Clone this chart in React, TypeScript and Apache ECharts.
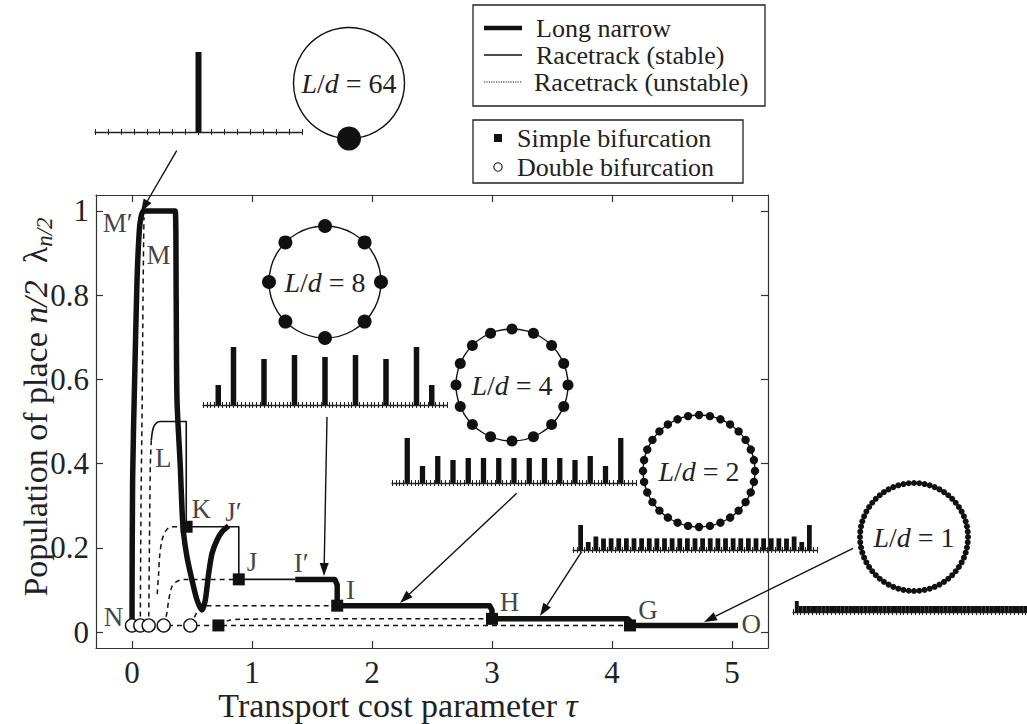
import React, { useEffect, useRef } from 'react';
import * as echarts from 'echarts';

// ---------- main diagram data (tau, lambda_{n/2}) ----------
const xTicks = [0, 1, 2, 3, 4, 5];
const yTicks = [0, 0.2, 0.4, 0.6, 0.8, 1];

const thickBranchM = [[0, 0.0156], [0.005, 0.36], [0.022, 0.6], [0.042, 0.836], [0.06, 0.95], [0.075, 0.985], [0.097, 1], [0.36, 1], [0.368, 0.8], [0.375, 0.551], [0.4025, 0.393], [0.417, 0.29], [0.43, 0.234], [0.458, 0.179], [0.5, 0.1235], [0.542, 0.076], [0.583, 0.052], [0.611, 0.076], [0.639, 0.139], [0.667, 0.187], [0.708, 0.218], [0.75, 0.238], [0.805, 0.252]];
const thickTail = [[1.36, 0.125], [1.69, 0.125], [1.71, 0.112], [1.71, 0.0625], [2.98, 0.0625], [3.0, 0.052], [3.0, 0.03125], [4.13, 0.03125], [4.15, 0.026], [4.15, 0.015625], [5.05, 0.015625]];

const thinL = [[0.161, 0.456], [0.17, 0.476], [0.185, 0.49], [0.21, 0.498], [0.236, 0.5], [0.452, 0.5], [0.452, 0.25]];
const thinKJ = [[0.455, 0.25], [0.89, 0.25], [0.89, 0.125], [1.36, 0.125]];

const dashM = [[0.069, 0.0156], [0.075, 0.3], [0.085, 0.55], [0.092, 0.8], [0.097, 0.93], [0.1, 0.985]];
const dashL = [[0.139, 0.0156], [0.145, 0.2], [0.153, 0.4], [0.161, 0.456]];
const dashK = [[0.21, 0.09], [0.222, 0.139], [0.23, 0.179], [0.25, 0.218], [0.286, 0.242], [0.333, 0.25], [0.455, 0.25]];
const dashJ = [[0.264, 0.0156], [0.29, 0.044], [0.306, 0.076], [0.333, 0.108], [0.375, 0.12], [0.43, 0.125], [0.89, 0.125]];
const dashI = [[0.486, 0.0156], [0.52, 0.035], [0.56, 0.055], [0.62, 0.0625], [1.71, 0.0625]];
const dashH = [[0.72, 0.0156], [0.8, 0.027], [0.9, 0.03], [1.5, 0.0312], [3.0, 0.03125]];
const dashG = [[0, 0.0156], [4.15, 0.0156]];

const simpleBif = [[0.455, 0.25], [0.89, 0.125], [1.71, 0.0625], [3.0, 0.03125], [4.15, 0.015625], [0.72, 0.015625]];
const doubleBif = [[0, 0.015625], [0.069, 0.015625], [0.139, 0.015625], [0.264, 0.015625], [0.486, 0.015625]];

const pointLabels = ['M\u2032', 'M', 'L', 'K', 'J\u2032', 'J', 'I\u2032', 'I', 'H', 'G', 'O', 'N'];
const labelX = [-0.12, 0.22, 0.26, 0.578, 0.845, 1.0, 1.41, 1.82, 3.145, 4.3, 5.16, -0.155];
const labelY = [0.971, 0.895, 0.413, 0.292, 0.285, 0.166, 0.164, 0.1, 0.071, 0.052, 0.019, 0.036];

// ---------- inset population profiles (place index, population in arbitrary units) ----------
const inset64Pos = [8];
const inset64Val = [80];
const inset8Pos = [4, 8, 16, 24, 32, 40, 48, 56, 60];
const inset8Val = [20, 58, 46, 50, 48, 50, 46, 58, 20];
const inset4Pos = [4, 8, 12, 16, 20, 24, 28, 32, 36, 40, 44, 48, 52, 56, 60];
const inset4Val = [45, 17, 27, 23, 25, 25, 25, 25, 25, 25, 25, 23, 27, 17, 45];
const inset2Pos = [2, 4, 6, 8, 10, 12, 14, 16, 18, 20, 22, 24, 26, 28, 30, 32, 34, 36, 38, 40, 42, 44, 46, 48, 50, 52, 54, 56, 58, 60, 62];
const inset2Val = [25, 8, 13.5, 11.5, 11.7, 11.7, 11.7, 11.7, 11.7, 11.7, 11.7, 11.7, 11.7, 11.7, 11.7, 11.7, 11.7, 11.7, 11.7, 11.7, 11.7, 11.7, 11.7, 11.7, 11.7, 11.7, 11.7, 11.5, 13.5, 8, 25];
const inset1Pos = [1, 2, 3, 4, 5, 6, 7, 8, 9, 10, 11, 12, 13, 14, 15, 16, 17, 18, 19, 20, 21, 22, 23, 24, 25, 26, 27, 28, 29, 30, 31, 32, 33, 34, 35, 36, 37, 38, 39, 40, 41, 42, 43, 44, 45, 46, 47, 48, 49, 50, 51, 52, 53, 54, 55, 56, 57, 58, 59, 60, 61, 62, 63];
const inset1Val = [11, 6, 6, 6, 6, 6, 6, 6, 6, 6, 6, 6, 6, 6, 6, 6, 6, 6, 6, 6, 6, 6, 6, 6, 6, 6, 6, 6, 6, 6, 6, 6, 6, 6, 6, 6, 6, 6, 6, 6, 6, 6, 6, 6, 6, 6, 6, 6, 6, 6, 6, 6, 6, 6, 6, 6, 6, 6, 6, 6, 6, 6, 11];

const FONT = 'Liberation Serif';
const INK = '#111';

function pairs(pos: number[], val: number[]) {
  return pos.map((p, i) => [p, val[i]]);
}

function ring(cx: number, cy: number, r: number, n: number, dotR: number, start: number, num: string) {
  const els: any[] = [
    { type: 'circle', shape: { cx, cy, r }, style: { fill: 'none', stroke: INK, lineWidth: 1.4 }, z: 50 },
  ];
  for (let i = 0; i < n; i++) {
    const a = start + (2 * Math.PI * i) / n;
    els.push({ type: 'circle', shape: { cx: cx + r * Math.cos(a), cy: cy + r * Math.sin(a), r: dotR }, style: { fill: INK }, z: 51 });
  }
  els.push({
    type: 'text', x: cx, y: cy, z: 52,
    style: {
      text: '{i|L}/{i|d} = ' + num, align: 'center', verticalAlign: 'middle',
      fontSize: 28, fontFamily: FONT, fill: '#222',
      rich: { i: { fontStyle: 'italic', fontSize: 28, fontFamily: FONT, fill: '#222' } },
    },
  });
  return els;
}

function arrow(x1: number, y1: number, x2: number, y2: number) {
  const dx = x2 - x1, dy = y2 - y1, len = Math.hypot(dx, dy);
  const ux = dx / len, uy = dy / len, head = 13, half = 4.5;
  const bx = x2 - ux * head, by = y2 - uy * head;
  return [
    { type: 'line', shape: { x1, y1, x2: bx, y2: by }, style: { stroke: INK, lineWidth: 1.4 }, z: 60 },
    { type: 'polygon', shape: { points: [[x2, y2], [bx - uy * half, by + ux * half], [bx + uy * half, by - ux * half]] }, style: { fill: INK }, z: 60 },
  ];
}

function insetAxes(grid: number, max: number) {
  const base = { type: 'value', gridIndex: grid, min: 0, max, interval: 1, position: 'bottom', axisLabel: { show: false }, splitLine: { show: false } };
  return [
    { ...base, axisLine: { show: true, onZero: false, lineStyle: { color: '#222', width: 1.3 } }, axisTick: { show: true, inside: true, length: 3, lineStyle: { color: '#222', width: 1 } } },
    { ...base, axisLine: { show: false, onZero: false }, axisTick: { show: true, inside: false, length: 3, lineStyle: { color: '#222', width: 1 } } },
  ];
}

export default function App() {
  const ref = useRef<HTMLDivElement>(null);
  useEffect(() => {
    if (!ref.current) return;
    const chart = echarts.init(ref.current, null, { renderer: 'svg' });

    const mainAxisLine = { show: true, onZero: false, lineStyle: { color: '#333', width: 1.2 } };
    const tickStyle = { color: '#333', width: 1.2 };
    const labelStyle = { fontSize: 31, fontFamily: FONT, color: '#222', lineHeight: 26 };

    const insetGrids = [
      { left: 95, top: 32, width: 207, height: 100 },
      { left: 203, top: 305, width: 244, height: 100 },
      { left: 392, top: 383, width: 244, height: 100 },
      { left: 573, top: 450, width: 244, height: 100 },
      { left: 793, top: 512, width: 244, height: 100 },
    ];

    const xAxes: any[] = [
      {
        type: 'value', gridIndex: 0, position: 'bottom', min: -0.3, max: 5.3,
        axisLine: mainAxisLine,
        axisTick: { show: true, inside: true, length: 7, customValues: xTicks, lineStyle: tickStyle },
        axisLabel: { show: true, customValues: xTicks, margin: 11, ...labelStyle },
        splitLine: { show: false },
      },
      {
        type: 'value', gridIndex: 0, position: 'top', min: -0.3, max: 5.3,
        axisLine: mainAxisLine,
        axisTick: { show: true, inside: true, length: 7, customValues: xTicks, lineStyle: tickStyle },
        axisLabel: { show: false }, splitLine: { show: false },
      },
      ...insetAxes(1, 16), ...insetAxes(2, 64), ...insetAxes(3, 64), ...insetAxes(4, 64), ...insetAxes(5, 64),
    ];
    const yAxes: any[] = [
      {
        type: 'value', gridIndex: 0, position: 'left', min: -0.038, max: 1.038,
        axisLine: mainAxisLine,
        axisTick: { show: true, inside: true, length: 7, customValues: yTicks, lineStyle: tickStyle },
        axisLabel: { show: true, customValues: yTicks, margin: 7, ...labelStyle, formatter: (v: number) => (v === 0 ? '0' : v === 1 ? '1' : v.toFixed(1)) },
        splitLine: { show: false },
      },
      {
        type: 'value', gridIndex: 0, position: 'right', min: -0.038, max: 1.038,
        axisLine: mainAxisLine,
        axisTick: { show: true, inside: true, length: 7, customValues: yTicks, lineStyle: tickStyle },
        axisLabel: { show: false }, splitLine: { show: false },
      },
      ...[1, 2, 3, 4, 5].map((g) => ({ type: 'value', gridIndex: g, min: 0, max: 100, show: false })),
    ];

    const line = (data: number[][], width: number, dashed: boolean, smooth: number | boolean, z: number) => ({
      type: 'line', xAxisIndex: 0, yAxisIndex: 0, data, showSymbol: false, symbol: 'none', smooth, silent: true, z,
      lineStyle: { color: INK, width, type: dashed ? [5, 4] : 'solid', join: 'round', opacity: 1 },
    });

    const bar = (xi: number, yi: number, data: number[][], w: number) => ({
      type: 'bar', xAxisIndex: xi, yAxisIndex: yi, data, barWidth: w, silent: true, itemStyle: { color: INK, opacity: 1 }, z: 5,
    });

    const series: any[] = [
      line(dashG, 1.5, true, false, 2),
      line(dashM, 1.5, true, 0.3, 2),
      line(dashL, 1.5, true, 0.3, 2),
      line(dashK, 1.5, true, 0.3, 2),
      line(dashJ, 1.5, true, 0.3, 2),
      line(dashI, 1.5, true, 0.3, 2),
      line(dashH, 1.5, true, 0.3, 2),
      line(thinL, 1.6, false, 0.2, 3),
      line(thinKJ, 1.6, false, false, 3),
      line(thickBranchM, 5.5, false, 0.25, 4),
      line(thickTail, 5.5, false, false, 4),
      {
        type: 'scatter', xAxisIndex: 0, yAxisIndex: 0, data: simpleBif, symbol: 'rect', symbolSize: 12, silent: true, z: 6,
        itemStyle: { color: INK, opacity: 1 },
      },
      {
        type: 'scatter', xAxisIndex: 0, yAxisIndex: 0, data: doubleBif, symbol: 'circle', symbolSize: 13, silent: true, z: 6,
        itemStyle: { color: '#fff', borderColor: INK, borderWidth: 1.4, opacity: 1 },
      },
      {
        type: 'scatter', xAxisIndex: 0, yAxisIndex: 0, symbolSize: 1, silent: true, z: 7,
        itemStyle: { color: 'transparent' },
        data: pointLabels.map((n, i) => ({ name: n, value: [labelX[i], labelY[i]] })),
        label: { show: true, position: 'inside', formatter: '{b}', fontSize: 27, fontFamily: FONT, color: INK, lineHeight: 24 },
      },
      bar(2, 2, pairs(inset64Pos, inset64Val), 6),
      bar(4, 3, pairs(inset8Pos, inset8Val), 5.5),
      bar(6, 4, pairs(inset4Pos, inset4Val), 5.3),
      bar(8, 5, pairs(inset2Pos, inset2Val), 4.8),
      bar(10, 6, pairs(inset1Pos, inset1Val), 3.9),
    ];

    const legendText = (text: string, x: number, y: number) => ({
      type: 'text', x, y, z: 70,
      style: { text, verticalAlign: 'middle', fontSize: 26, fontFamily: FONT, fill: '#222' },
    });

    const graphic: any[] = [
      { type: 'rect', shape: { x: 473, y: 5, width: 292, height: 101 }, style: { fill: '#fff', stroke: '#222', lineWidth: 1.3 }, z: 65 },
      { type: 'line', shape: { x1: 484, y1: 28, x2: 522, y2: 28 }, style: { stroke: INK, lineWidth: 4.5 }, z: 70 },
      legendText('Long narrow', 536, 28),
      { type: 'line', shape: { x1: 484, y1: 55, x2: 522, y2: 55 }, style: { stroke: INK, lineWidth: 1.4 }, z: 70 },
      legendText('Racetrack (stable)', 536, 55),
      { type: 'line', shape: { x1: 484, y1: 82, x2: 522, y2: 82 }, style: { stroke: INK, lineWidth: 1, lineDash: [1.2, 1.2] }, z: 70 },
      legendText('Racetrack (unstable)', 534, 82),
      { type: 'rect', shape: { x: 473, y: 120, width: 270, height: 63 }, style: { fill: '#fff', stroke: '#222', lineWidth: 1.3 }, z: 65 },
      { type: 'rect', shape: { x: 494, y: 134, width: 8, height: 8 }, style: { fill: INK }, z: 70 },
      legendText('Simple bifurcation', 517, 138),
      { type: 'circle', shape: { cx: 498, cy: 167, r: 4.2 }, style: { fill: '#fff', stroke: INK, lineWidth: 1.1 }, z: 70 },
      legendText('Double bifurcation', 517, 167),
      ...ring(349, 83, 55.5, 1, 12, Math.PI / 2, '64'),
      ...ring(325, 282, 56, 8, 7, -Math.PI / 2, '8'),
      ...ring(512, 385, 56, 16, 5.5, -Math.PI / 2, '4'),
      ...ring(699, 471, 56, 32, 4.2, -Math.PI / 2, '2'),
      ...ring(914, 537, 54, 64, 3, -Math.PI / 2, '1'),
      ...arrow(176.7, 150.7, 141, 212),
      ...arrow(327, 417, 324, 576),
      ...arrow(516.7, 493.3, 400, 603),
      ...arrow(581.7, 551.7, 540, 616),
      ...arrow(853, 548.3, 704, 622),
      {
        type: 'text', x: 35, y: 407, rotation: Math.PI / 2, z: 70,
        style: {
          text: '{r|Population of place }{i|n/2}{r|  \u03bb}{s|n/2}', align: 'center', verticalAlign: 'middle',
          fontSize: 34, fontFamily: FONT, fill: '#222',
          rich: {
            r: { fontSize: 34, fontFamily: FONT, fill: '#222', lineHeight: 30 },
            i: { fontSize: 34, fontFamily: FONT, fontStyle: 'italic', fill: '#222', lineHeight: 30 },
            s: { fontSize: 23, fontFamily: FONT, fontStyle: 'italic', fill: '#222', padding: [18, 0, 0, 0] },
          },
        },
      },
      {
        type: 'text', x: 398, y: 705, z: 70,
        style: {
          text: '{r|Transport cost parameter }{i|\u03c4}', align: 'center', verticalAlign: 'middle',
          fontSize: 34, fontFamily: FONT, fill: '#222',
          rich: {
            r: { fontSize: 34, fontFamily: FONT, fill: '#222', lineHeight: 28 },
            i: { fontSize: 34, fontFamily: FONT, fontStyle: 'italic', fill: '#222', lineHeight: 28 },
          },
        },
      },
    ];

    chart.setOption({
      animation: false,
      backgroundColor: '#fff',
      textStyle: { fontFamily: FONT },
      grid: [{ left: 96, top: 195, width: 672, height: 453, outerBoundsMode: 'none' }, ...insetGrids.map((g) => ({ ...g, outerBoundsMode: 'none' }))],
      xAxis: xAxes,
      yAxis: yAxes,
      series,
      graphic,
    });
    return () => chart.dispose();
  }, []);
  return <div ref={ref} style={{ position: 'absolute', left: 0, top: 0, width: 1027, height: 724 }} />;
}
